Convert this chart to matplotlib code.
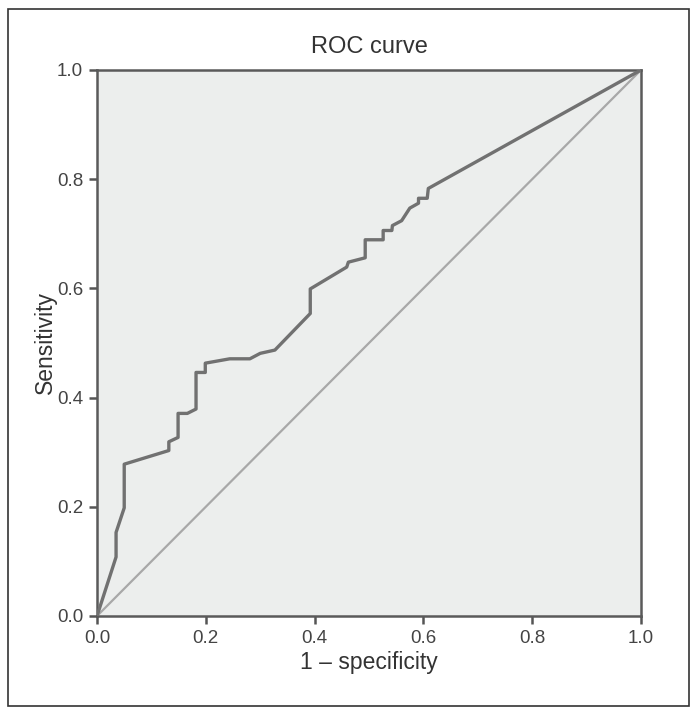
import matplotlib
matplotlib.use("Agg")
import matplotlib.pyplot as plt
from matplotlib.patches import Rectangle

plt.rcParams['font.family'] = ['Liberation Sans Narrow', 'Liberation Sans', 'DejaVu Sans']

# ROC curve points (1 - specificity, sensitivity)
fpr = [0.0, 0.035, 0.035, 0.050, 0.050, 0.132, 0.132, 0.149, 0.149, 0.166,
       0.182, 0.182, 0.199, 0.199, 0.244, 0.281, 0.300, 0.327, 0.392, 0.392,
       0.459, 0.462, 0.493, 0.493, 0.526, 0.526, 0.542, 0.543, 0.560, 0.575,
       0.591, 0.591, 0.607, 0.609, 1.0]
tpr = [0.0, 0.108, 0.153, 0.198, 0.278, 0.303, 0.319, 0.327, 0.371, 0.371,
       0.379, 0.446, 0.446, 0.463, 0.471, 0.471, 0.481, 0.487, 0.554, 0.599,
       0.639, 0.648, 0.656, 0.689, 0.689, 0.706, 0.706, 0.715, 0.724, 0.747,
       0.756, 0.765, 0.765, 0.783, 1.0]
ref_line = [0.0, 1.0]
ticks = [0.0, 0.2, 0.4, 0.6, 0.8, 1.0]
tick_labels = ["0.0", "0.2", "0.4", "0.6", "0.8", "1.0"]

fig = plt.figure(figsize=(6.96, 7.14), dpi=100)
ax = fig.add_axes([0.1394, 0.1373, 0.7816, 0.7647])
ax.set_facecolor("#eceeed")

# outer frame
fig.patches.append(Rectangle((8 / 696, 8 / 714), 681 / 696, 697 / 714,
                             transform=fig.transFigure, fill=False,
                             edgecolor="#333333", linewidth=1.2))

ax.plot(ref_line, ref_line, color="#a8a8a8", linewidth=1.6, zorder=2)
ax.plot(fpr, tpr, color="#717171", linewidth=2.4, zorder=3)

ax.set_xlim(0, 1)
ax.set_ylim(0, 1)
ax.set_xticks(ticks)
ax.set_xticklabels(tick_labels)
ax.set_yticks(ticks)
ax.set_yticklabels(tick_labels)
ax.tick_params(direction="out", length=6, width=1.8, color="#555555",
               labelsize=13.5, labelcolor="#444444", pad=4)
for s in ax.spines.values():
    s.set_color("#5a5a5a")
    s.set_linewidth(1.8)

ax.set_title("ROC curve", fontsize=17, color="#333333", pad=12)
ax.set_xlabel("1 \u2013 specificity", fontsize=16.5, color="#333333", labelpad=3)
ax.set_ylabel("Sensitivity", fontsize=16.5, color="#333333", labelpad=0)

fig.savefig("out.png", dpi=100)
